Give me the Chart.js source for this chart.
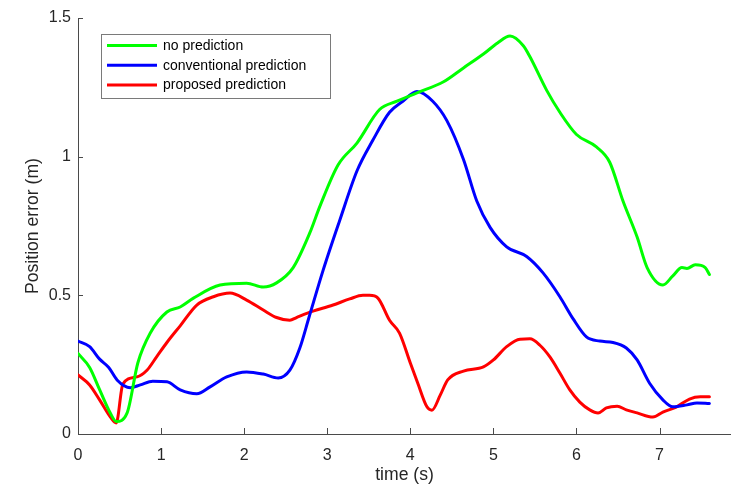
<!DOCTYPE html>
<html>
<head>
<meta charset="utf-8">
<script src="https://cdn.jsdelivr.net/npm/chart.js@4"></script>
<style>
html,body{margin:0;padding:0;background:#fff;}
canvas{display:block;}
</style>
</head>
<body>
<canvas id="c" width="731" height="486"></canvas>
<script>
const seriesLabels = ['no prediction', 'conventional prediction', 'proposed prediction'];
const xTicks = [0, 1, 2, 3, 4, 5, 6, 7];
const yTicks = [0, 0.5, 1, 1.5];

const tNoPred = [0,0.14,0.26,0.39,0.46,0.59,0.72,0.87,1.07,1.23,1.39,1.71,2.03,2.23,2.39,2.59,2.79,2.91,3.13,3.36,3.63,3.84,4.08,4.4,4.64,4.88,5.05,5.2,5.36,5.44,5.64,5.8,6.0,6.24,6.4,6.56,6.73,6.85,7.04,7.16,7.27,7.33,7.43,7.55,7.6];
const vNoPred = [0.29,0.24,0.16,0.075,0.045,0.075,0.256,0.364,0.44,0.458,0.49,0.537,0.544,0.53,0.545,0.60,0.725,0.82,0.97,1.05,1.17,1.20,1.23,1.27,1.32,1.37,1.41,1.435,1.40,1.36,1.24,1.16,1.08,1.035,0.98,0.84,0.71,0.60,0.537,0.57,0.60,0.597,0.61,0.60,0.575];

const tConv = [0,0.14,0.26,0.37,0.47,0.63,0.75,0.9,1.07,1.23,1.43,1.59,1.79,2.03,2.23,2.41,2.55,2.67,2.78,2.95,3.15,3.36,3.55,3.75,3.91,4.08,4.27,4.44,4.64,4.8,4.96,5.16,5.4,5.6,5.8,5.96,6.12,6.28,6.44,6.6,6.73,6.88,7.04,7.16,7.33,7.45,7.6];
const vConv = [0.335,0.315,0.27,0.24,0.195,0.167,0.177,0.19,0.188,0.159,0.145,0.17,0.206,0.224,0.216,0.202,0.23,0.31,0.42,0.59,0.77,0.95,1.06,1.16,1.20,1.235,1.20,1.13,0.99,0.84,0.745,0.675,0.64,0.58,0.495,0.415,0.35,0.335,0.33,0.31,0.267,0.183,0.123,0.098,0.105,0.112,0.11];

const tProp = [0,0.14,0.26,0.39,0.46,0.54,0.71,0.83,0.95,1.07,1.23,1.43,1.63,1.83,2.03,2.23,2.39,2.55,2.63,2.77,3.07,3.27,3.43,3.51,3.61,3.75,3.87,4.0,4.09,4.2,4.26,4.36,4.45,4.64,4.88,5.0,5.16,5.32,5.44,5.56,5.68,5.8,5.92,6.04,6.16,6.26,6.36,6.49,6.6,6.73,6.92,7.04,7.2,7.36,7.49,7.6];
const vProp = [0.213,0.177,0.123,0.061,0.04,0.18,0.206,0.23,0.28,0.33,0.39,0.465,0.495,0.508,0.483,0.447,0.42,0.41,0.42,0.437,0.465,0.487,0.50,0.50,0.49,0.41,0.364,0.256,0.183,0.098,0.086,0.14,0.195,0.227,0.242,0.267,0.315,0.342,0.343,0.32,0.278,0.22,0.159,0.115,0.087,0.076,0.094,0.1,0.087,0.076,0.061,0.079,0.097,0.126,0.134,0.134];

const colors = ['#00ff00', '#0000ff', '#ff0000'];
const FONT = '"Liberation Sans", Arial, Helvetica, sans-serif';
const AXIS = '#4a4a4a';
const TXT = '#262626';

function pts(t, v) { return t.map((x, i) => ({x: x, y: v[i]})); }

const tickMarks = {
  id: 'tickMarks',
  afterDraw(chart) {
    const ctx = chart.ctx, xs = chart.scales.x, ys = chart.scales.y;
    const a = chart.chartArea;
    ctx.save();
    ctx.strokeStyle = AXIS;
    ctx.lineWidth = 1;
    ctx.beginPath();
    xs.ticks.forEach(tk => {
      const p = Math.round(xs.getPixelForValue(tk.value)) + 0.5;
      ctx.moveTo(p, a.bottom); ctx.lineTo(p, a.bottom - 6);
    });
    ys.ticks.forEach(tk => {
      const p = Math.round(ys.getPixelForValue(tk.value)) + 0.5;
      ctx.moveTo(a.left, p); ctx.lineTo(a.left + 5, p);
    });
    ctx.stroke();
    ctx.restore();
  }
};

const boxLegend = {
  id: 'boxLegend',
  afterDraw(chart) {
    const ctx = chart.ctx, a = chart.chartArea;
    const x0 = a.left + 23, y0 = a.top + 16, w = 229, h = 64;
    ctx.save();
    ctx.fillStyle = '#fff';
    ctx.fillRect(x0, y0, w, h);
    ctx.strokeStyle = '#7a7a7a';
    ctx.lineWidth = 1;
    ctx.strokeRect(x0 + 0.5, y0 + 0.5, w, h);
    ctx.font = '14px ' + FONT;
    ctx.textBaseline = 'middle';
    chart.data.datasets.forEach((ds, i) => {
      const yy = y0 + 11.5 + i * 19.8;
      ctx.strokeStyle = ds.borderColor;
      ctx.lineWidth = 3;
      ctx.beginPath();
      ctx.moveTo(x0 + 6, yy); ctx.lineTo(x0 + 56, yy);
      ctx.stroke();
      ctx.fillStyle = '#000';
      ctx.fillText(ds.label, x0 + 62, yy + 0.5);
    });
    ctx.restore();
  }
};

new Chart(document.getElementById('c'), {
  type: 'line',
  data: {
    datasets: [
      {label: seriesLabels[0], data: pts(tNoPred, vNoPred), borderColor: colors[0]},
      {label: seriesLabels[1], data: pts(tConv, vConv), borderColor: colors[1]},
      {label: seriesLabels[2], data: pts(tProp, vProp), borderColor: colors[2]}
    ]
  },
  options: {
    responsive: false,
    animation: false,
    parsing: true,
    layout: {padding: {left: 0, right: 0, top: 18, bottom: 0}},
    elements: {
      point: {radius: 0},
      line: {borderWidth: 3, cubicInterpolationMode: 'monotone', fill: false, borderCapStyle: 'round', borderJoinStyle: 'round'}
    },
    plugins: {legend: {display: false}, tooltip: {enabled: false}},
    scales: {
      x: {
        type: 'linear', min: 0, max: 7.86,
        afterFit(s) { s.height = 52; },
        afterBuildTicks(s) { s.ticks = xTicks.map(v => ({value: v})); },
        grid: {display: false, drawTicks: false},
        border: {display: true, color: AXIS, width: 1},
        ticks: {padding: 12, color: TXT, font: {family: FONT, size: 16}, maxRotation: 0, autoSkip: false},
        title: {display: true, text: 'time (s)', color: TXT, font: {family: FONT, size: 17.6}, padding: {top: 0, bottom: 0}}
      },
      y: {
        type: 'linear', min: 0, max: 1.5,
        afterFit(s) { s.width = 78; },
        afterBuildTicks(s) { s.ticks = yTicks.map(v => ({value: v})); },
        grid: {display: false, drawTicks: false},
        border: {display: true, color: AXIS, width: 1},
        ticks: {padding: 7, color: TXT, font: {family: FONT, size: 16}, callback: v => String(v)},
        title: {display: true, text: 'Position error (m)', color: TXT, font: {family: FONT, size: 17.6}, padding: {top: 23, bottom: 0}}
      }
    }
  },
  plugins: [tickMarks, boxLegend]
});
</script>
</body>
</html>
